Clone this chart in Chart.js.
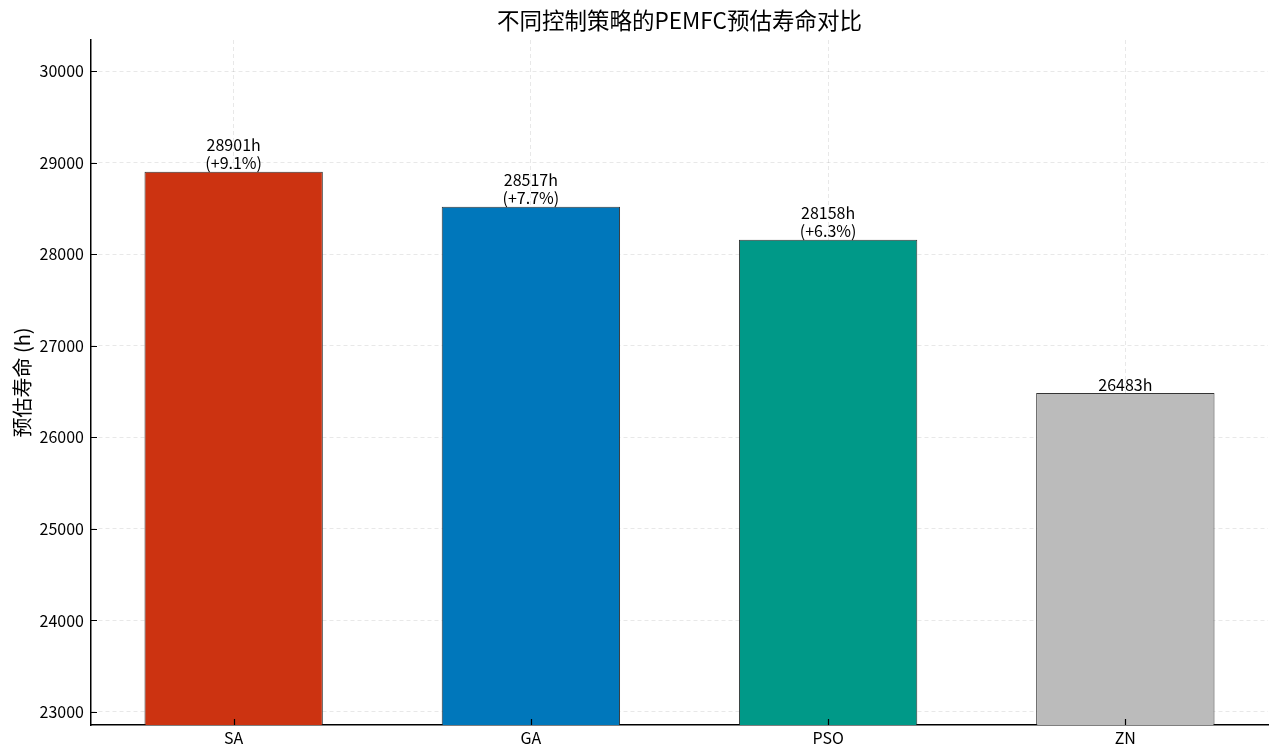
<!DOCTYPE html>
<html>
<head>
<meta charset="utf-8">
<script src="https://cdn.jsdelivr.net/npm/chart.js@4.4.1/dist/chart.umd.min.js"></script>
<style>
html,body{margin:0;padding:0;background:#fff;}
#wrap{width:1280px;height:753px;}
</style>
</head>
<body>
<div id="wrap"><canvas id="c" width="1280" height="753"></canvas></div>
<script>
const categories = ["SA", "GA", "PSO", "ZN"];
const lifeHours = [28901, 28517, 28158, 26483];
const gainLabels = ["(+9.1%)", "(+7.7%)", "(+6.3%)", null];
const barColors = ["#CC3311", "#0077BB", "#009988", "#BBBBBB"];
const yTicks = [23000, 24000, 25000, 26000, 27000, 28000, 29000, 30000];
const titleText = '不同控制策略的PEMFC预估寿命对比';
const yTitleText = '预估寿命 (h)';
const yMin = 22858, yMax = 30339;
const xMin = -0.48, xMax = 3.48;

const FONT = "'Noto Sans CJK SC', 'DejaVu Sans', sans-serif";

const tickMarks = {
  id: 'tickMarks',
  afterDraw(chart) {
    const ctx = chart.ctx, a = chart.chartArea;
    const xs = chart.scales.x, ys = chart.scales.y;
    ctx.save();
    ctx.strokeStyle = '#000';
    ctx.lineWidth = 1.2;
    ctx.beginPath();
    xs.ticks.forEach(t => {
      const px = Math.round(xs.getPixelForValue(t.value)) + 0.5;
      ctx.moveTo(px, a.bottom); ctx.lineTo(px, a.bottom - 6);
    });
    ys.ticks.forEach(t => {
      const py = Math.round(ys.getPixelForValue(t.value)) + 0.5;
      ctx.moveTo(a.left, py); ctx.lineTo(a.left + 6, py);
    });
    ctx.stroke();
    // title centred over plot area
    ctx.fillStyle = '#000';
    ctx.font = '22.5px ' + FONT;
    ctx.textAlign = 'center';
    ctx.textBaseline = 'middle';
    ctx.fillText(titleText, (a.left + a.right) / 2, 20);
    ctx.restore();
  }
};

const barLabels = {
  id: 'barLabels',
  afterDatasetsDraw(chart) {
    const ctx = chart.ctx;
    const meta = chart.getDatasetMeta(0);
    ctx.save();
    ctx.fillStyle = '#000';
    ctx.font = '16px ' + FONT;
    ctx.textAlign = 'center';
    ctx.textBaseline = 'alphabetic';
    meta.data.forEach((bar, i) => {
      const top = bar.y;
      const main = lifeHours[i] + 'h';
      if (gainLabels[i]) {
        ctx.fillText(gainLabels[i], bar.x, top - 3);
        ctx.fillText(main, bar.x, top - 20.5);
      } else {
        ctx.fillText(main, bar.x, top - 2);
      }
    });
    ctx.restore();
  }
};

new Chart(document.getElementById('c'), {
  type: 'bar',
  data: {
    datasets: [{
      data: categories.map((c, i) => ({x: i, y: lifeHours[i]})),
      backgroundColor: barColors,
      borderColor: 'rgba(30,30,30,0.9)',
      borderWidth: 1,
      borderSkipped: false,
      barPercentage: 0.6,
      categoryPercentage: 1.0
    }]
  },
  options: {
    responsive: false,
    animation: false,
    devicePixelRatio: 1,
    layout: { padding: { top: 40, right: 12, left: 0, bottom: 0 } },
    plugins: {
      legend: { display: false },
      tooltip: { enabled: false },
      title: { display: false }
    },
    scales: {
      x: {
        type: 'linear',
        min: xMin, max: xMax,
        offset: false,
        z: 1,
        afterBuildTicks: s => { s.ticks = categories.map((c, i) => ({value: i})); },
        afterFit: s => { s.height = 28; },
        ticks: {
          callback: (v) => categories[v] !== undefined ? categories[v] : '',
          color: '#000',
          font: { family: FONT, size: 16 },
          padding: 3,
          maxRotation: 0
        },
        grid: {
          offset: false,
          color: 'rgba(0,0,0,0.09)',
          lineWidth: 1,
          drawTicks: false
        },
        border: { display: true, color: '#000', width: 1.5, dash: [4, 3] }
      },
      y: {
        min: yMin, max: yMax,
        z: 1,
        afterBuildTicks: s => { s.ticks = yTicks.map(v => ({value: v})); },
        afterFit: s => { s.width = 91; },
        ticks: {
          callback: (v) => String(v),
          color: '#000',
          font: { family: FONT, size: 16 },
          padding: 7
        },
        grid: {
          color: 'rgba(0,0,0,0.09)',
          lineWidth: 1,
          drawTicks: false
        },
        border: { display: true, color: '#000', width: 1.5, dash: [4, 3] },
        title: {
          display: true,
          text: yTitleText,
          color: '#000',
          font: { family: FONT, size: 20 },
          padding: { top: 10, bottom: 0 }
        }
      }
    }
  },
  plugins: [barLabels, tickMarks]
});
</script>
</body>
</html>
